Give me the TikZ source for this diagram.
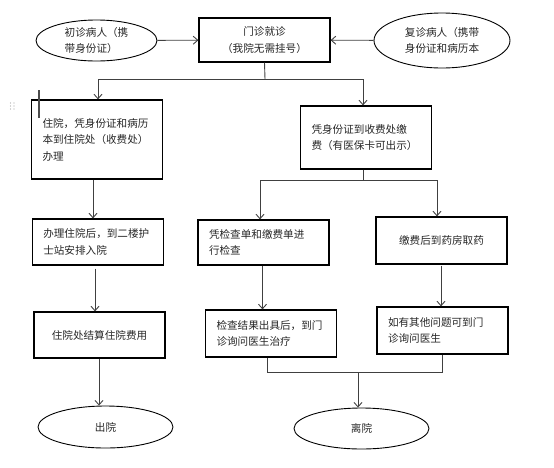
\documentclass[tikz,border=0pt]{standalone}
\usepackage{fontspec}
\newfontfamily\cjkfont{Noto Sans CJK SC}
\usetikzlibrary{arrows.meta,shapes.geometric}

\begin{document}
\begin{tikzpicture}[x=1pt,y=-1pt,->,>={Straight Barb[length=4.5pt,width=8pt]},semithick,
  every node/.style={font=\cjkfont\fontsize{10.6}{16.5}\selectfont,text=black!85},
  stepbox/.style={draw=black,line width=1.2pt,rectangle,inner xsep=11pt,inner ysep=0pt,text width=109pt,align=left},
  endpt/.style={draw=black,line width=0.9pt,ellipse,inner sep=0pt,align=left},
  link/.style={draw=black!75,line width=0.9pt}]
  \useasboundingbox (0,0) rectangle (554,467);

  \node[endpt,minimum width=121pt,minimum height=41pt] (first)  at (96.5,40.5) {初诊病人（携\\带身份证）};
  \node[stepbox,minimum height=44pt,align=center]       (clinic) at (264.5,40)  {门诊就诊\\（我院无需挂号）};
  \node[endpt,minimum width=136pt,minimum height=55pt] (return) at (442,40.5)  {复诊病人（携带\\身份证和病历本};

  \node[stepbox,minimum height=79pt] (inpat) at (97,139.5)  {住院，凭身份证和病历\\本到住院处（收费处）\\办理};
  \node[stepbox,minimum height=63pt] (pay)   at (366,137.5) {凭身份证到收费处缴\\费（有医保卡可出示）};

  \node[stepbox,minimum height=46pt]              (ward) at (97.75,242) {办理住院后，到二楼护\\士站安排入院};
  \node[stepbox,minimum height=45pt]              (exam) at (263.5,242.5) {凭检查单和缴费单进\\行检查};
  \node[stepbox,minimum height=47pt,align=center] (drug) at (441.5,240.5) {缴费后到药房取药};

  \node[stepbox,minimum height=46pt,align=center] (settle) at (99.5,335)  {住院处结算住院费用};
  \node[stepbox,minimum height=47pt]              (result) at (271,333.5) {检查结果出具后，到门\\诊询问医生治疗};
  \node[stepbox,minimum height=47pt]              (other)  at (442.5,330.5) {如有其他问题可到门\\诊询问医生};

  \node[endpt,minimum width=135pt,minimum height=42pt] (discharge) at (105.5,427) {出院};
  \node[endpt,minimum width=135pt,minimum height=41pt] (leave)     at (361.5,428.5) {离院};

  \coordinate (fork1) at (265,79);
  \coordinate (fork2) at (363,180);
  \coordinate (join)  at (358,372);

  \path[link] (first) edge (clinic)
              (return) edge (clinic);

  \draw[link,-] (clinic.south) -- (fork1);
  \draw[link] (fork1) -| ([xshift=1pt]inpat.north);
  \draw[link] (fork1) -| ([xshift=-3pt]pay.north);

  \draw[link,-] (pay.south -| fork2) -- (fork2);
  \draw[link] (fork2) -| ([xshift=-3.5pt]exam.north);
  \draw[link] (fork2) -| ([xshift=-4.5pt]drug.north);

  \draw[link] ([xshift=-4pt]inpat.south) -- ([xshift=-4pt]inpat.south |- ward.north);
  \draw[link] ([xshift=-2.75pt,yshift=-3pt]ward.south) -- ([xshift=-2.75pt]ward.south |- settle.north);
  \draw[link] ([xshift=-0.5pt]settle.south) -- ([xshift=-0.5pt]settle.south |- discharge.north);

  \draw[link] ([xshift=-1pt]exam.south) -- ([xshift=-1pt]exam.south |- result.north);
  \draw[link] ([xshift=-0.5pt,yshift=-1pt]drug.south) -- ([xshift=-0.5pt]drug.south |- other.north);

  \draw[link,-] ([xshift=-4pt]result.south) |- ([xshift=-0.5pt]other.south |- join) -- ([xshift=-0.5pt]other.south);
  \draw[link] (join) -- (join |- leave.north);

  % stray marks
  \draw[-,black!70,line width=1.3pt] (39,90) -- (39,118);
  \foreach \i in {0,1}
    \foreach \j in {0,1,2}
      \fill[black!35] (10.5+3.5*\i,103+3*\j) circle (0.7pt);
\end{tikzpicture}
\end{document}
